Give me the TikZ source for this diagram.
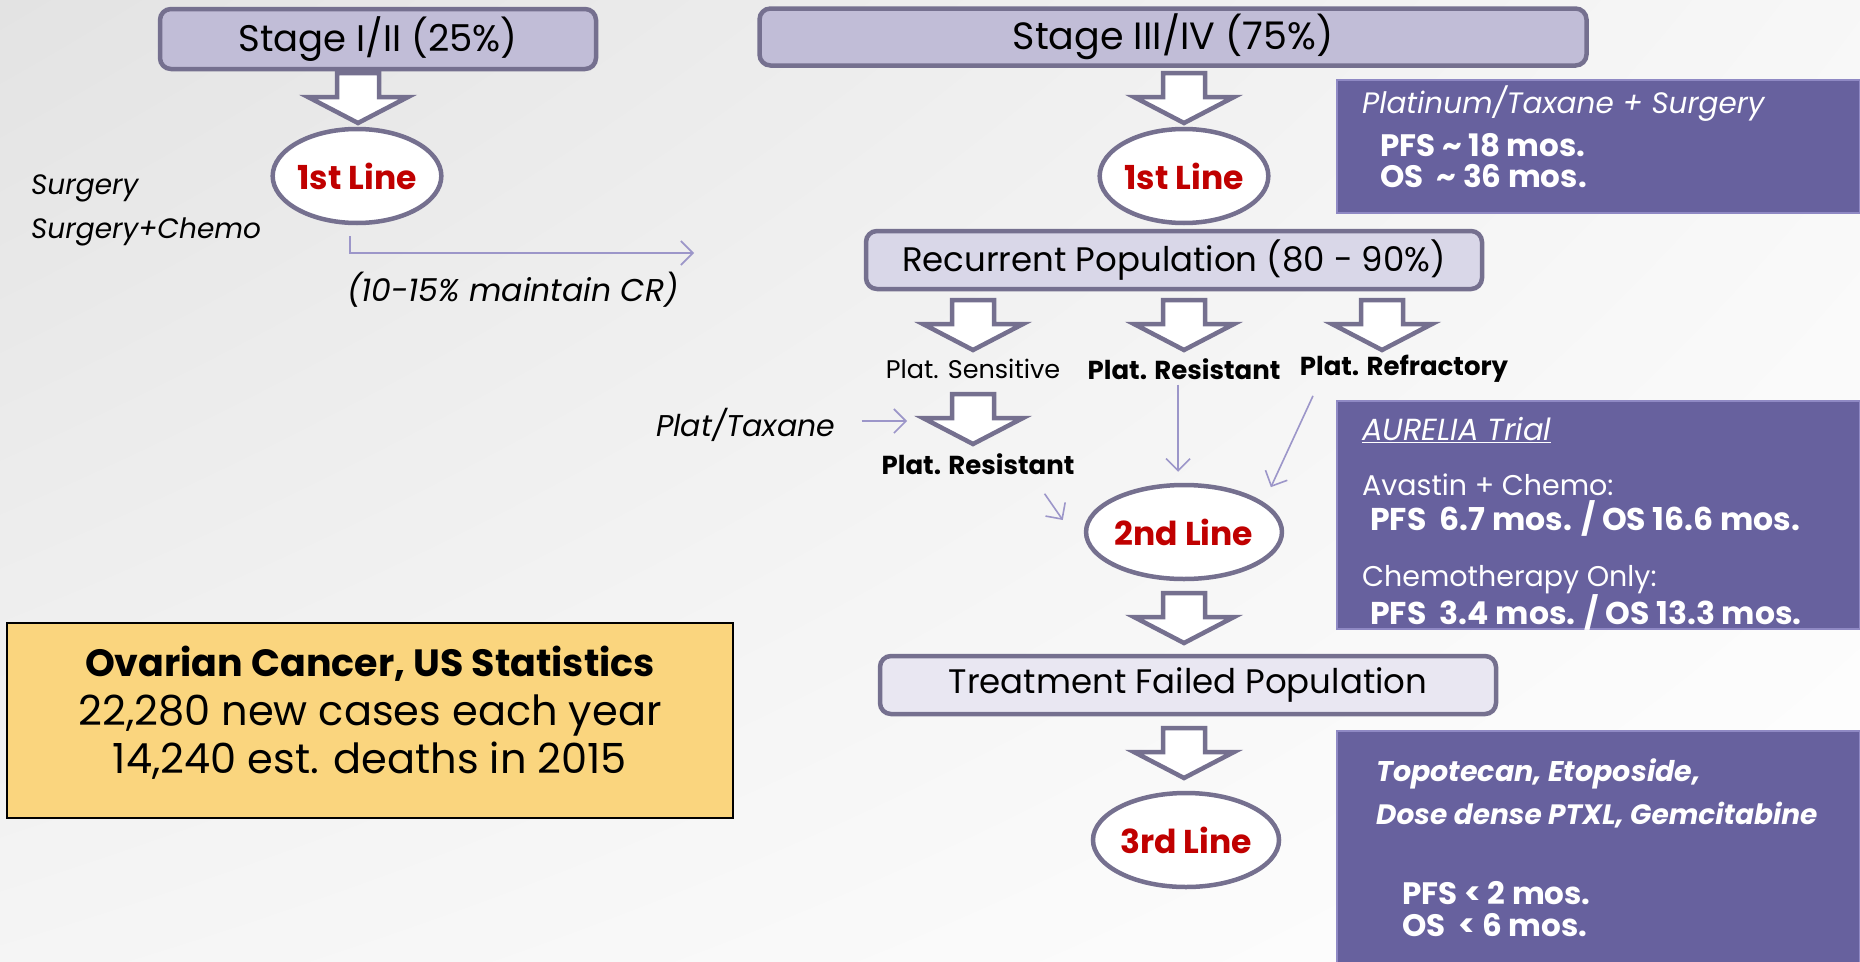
\documentclass[tikz,border=0pt]{standalone}
\usepackage{fontspec}
\setmainfont{Poppins}
\usetikzlibrary{arrows.meta,shapes.geometric,calc,shadings}
\definecolor{edgecol}{HTML}{75708F}
\definecolor{stagefill}{HTML}{C1BDD7}
\definecolor{recfill}{HTML}{D9D7E8}
\definecolor{failfill}{HTML}{E9E7F2}
\definecolor{infofill}{HTML}{67619E}
\definecolor{infoedge}{HTML}{8F89C4}
\definecolor{thincol}{HTML}{9C96C9}
\definecolor{linered}{HTML}{C00000}
\definecolor{statfill}{HTML}{FAD57E}
\newcommand{\fs}[1]{\fontsize{#1}{#1}\selectfont}
\tikzset{
  popbox/.style={draw=edgecol, line width=4.5pt, rounded corners=11pt, inner sep=0pt},
  lineell/.style={ellipse, draw=edgecol, fill=white, line width=4.5pt, inner sep=0pt,
     minimum width=160pt, minimum height=94pt, text=linered, font=\bfseries\fs{33}},
  infobox/.style={fill=infofill, draw=infoedge, line width=2pt},
  infotext/.style={text=white, anchor=west, inner sep=0pt},
  small/.style={font=\fs{25.5}, inner sep=0pt},
  smallb/.style={font=\bfseries\fs{26}, inner sep=0pt},
  tarrow/.style={draw=thincol, line width=1.6pt, -{Straight Barb[length=12pt,width=24pt,line width=1.6pt]}},
  barrow/.pic={\draw[edgecol, fill=white, line width=4.5pt, line join=miter]
     (-21,0) -- (21,0) -- (21,24) -- (50,24) -- (0,50) -- (-50,24) -- (-21,24) -- cycle;}
}
\begin{document}
\begin{tikzpicture}[x=1pt,y=-1pt]
\useasboundingbox (0,0) rectangle (1860,961);
\shade[upper left=black!11, upper right=black!3, lower left=black!4, lower right=white] (0,0) rectangle (1860,961);

% left column
\node[popbox, fill=stagefill, minimum width=436pt, minimum height=60pt, font=\fs{37}] (s12) at (378,39) {Stage I/II (25\%)};
\pic at (358,73) {barrow};
\node[lineell] (l1a) at (357,176) {1st Line};
\node[anchor=west, inner sep=0pt, font=\itshape\fs{28}] (surg) at (31,188) {Surgery};
\node[anchor=west, inner sep=0pt, font=\itshape\fs{28}] (surgc) at (31,232) {Surgery+Chemo};
\coordinate (crend) at (694,253);
\draw[tarrow] ([xshift=-7pt,yshift=-11pt]l1a.south) |- (crend);
\node[anchor=west, inner sep=0pt, font=\itshape\fs{31.5}] (cr) at (347,290) {(10-15\% maintain CR)};

% right column
\node[popbox, fill=stagefill, minimum width=827pt, minimum height=57pt, font=\fs{38}] (s34) at (1173,37) {Stage III/IV (75\%)};
\pic at (1184,73) {barrow};
\node[lineell] (l1b) at (1184,176) {1st Line};

\node[infobox, minimum width=523pt, minimum height=133pt, inner sep=0pt] (plat) at (1598.5,146.5) {};
\node[infotext, font=\itshape\fs{29.5}] (platt) at (1362,104) {Platinum/Taxane + Surgery};
\node[infotext, font=\bfseries\fs{31}] (pfs1) at (1380,145) {PFS \textasciitilde\ 18 mos.};
\node[infotext, font=\bfseries\fs{31}] (os1) at (1380,176) {OS\ \ \textasciitilde\ 36 mos.};

\node[popbox, fill=recfill, minimum width=616pt, minimum height=58pt, font=\fs{34}] (rec) at (1174,260) {Recurrent Population (80 - 90\%)};
\pic at (973,300) {barrow};
\pic at (1184,300) {barrow};
\pic at (1382,300) {barrow};
\node[small] (psens) at (973,369) {Plat. Sensitive};
\node[smallb] (pres) at (1184,369) {Plat. Resistant};
\node[smallb] (pref) at (1404,369) {Plat. Refractory};

\node[anchor=west, inner sep=0pt, font=\itshape\fs{30}] (ptax) at (656,425) {Plat/Taxane};
\coordinate (ptaxend) at (907,421);
\draw[tarrow] ([xshift=26pt]ptax.east |- ptaxend) -- (ptaxend);
\pic at (973,394) {barrow};
\node[smallb] (pres2) at (978,464) {Plat. Resistant};

\node[lineell] (l2) at (1184,532) {2nd Line};
\draw[tarrow] ($(pres2.south east)+(-30,19)$) -- ($(l2.west)+(-21,-12)$);
\draw[tarrow] ($(pres.south)+(-6,5)$) -- ($(l2.north)+(-6,-11)$);
\draw[tarrow] ($(pref.south)+(-91,13)$) -- ($(l2.north east)+(16,-10)$);

\node[infobox, minimum width=523pt, minimum height=228pt, inner sep=0pt] (aur) at (1598.5,515) {};
\node[infotext, font=\itshape\fs{30.5}] (aurt) at (1362,430) {\underline{AURELIA Trial}};
\node[infotext, font=\fs{28.5}] (av) at (1362,485) {Avastin + Chemo:};
\node[infotext, font=\bfseries\fs{31.5}] (av2) at (1370,518) {PFS\ \ 6.7 mos. / OS 16.6 mos.};
\node[infotext, font=\fs{28.5}] (ch) at (1362,580) {Chemotherapy Only:};
\node[infotext, font=\bfseries\fs{31.5}] (ch2) at (1370,612) {PFS\ \ 3.4 mos. / OS 13.3 mos.};

\pic at (1184,593) {barrow};
\node[popbox, fill=failfill, minimum width=616pt, minimum height=58pt, font=\fs{34}] (fail) at (1188,685) {Treatment Failed Population};
\pic at (1184,728) {barrow};
\node[lineell] (l3) at (1186,840) {3rd Line};

\node[infobox, minimum width=523pt, minimum height=240pt, inner sep=0pt] (topo) at (1598.5,851) {};
\node[infotext, font=\bfseries\itshape\fs{28.5}] (topo1) at (1376,774) {Topotecan, Etoposide,};
\node[infotext, font=\bfseries\itshape\fs{28}] (topo2) at (1376,815) {Dose dense PTXL, Gemcitabine};
\node[infotext, font=\bfseries\fs{31}] (pfs3) at (1402,893) {PFS < 2 mos.};
\node[infotext, font=\bfseries\fs{31}] (os3) at (1402,925) {OS\ \ < 6 mos.};

% statistics box
\node[draw=black, line width=2pt, fill=statfill, minimum width=726pt, minimum height=195pt, inner sep=0pt] (stat) at (370,720) {};
\node[font=\bfseries\fs{38}, inner sep=0pt] (st1) at (370,664) {Ovarian Cancer, US Statistics};
\node[font=\fs{41.5}, inner sep=0pt] (st2) at (370,715) {22,280 new cases each year};
\node[font=\fs{41.5}, inner sep=0pt] (st3) at (370,761) {14,240 est. deaths in 2015};
\end{tikzpicture}
\end{document}
